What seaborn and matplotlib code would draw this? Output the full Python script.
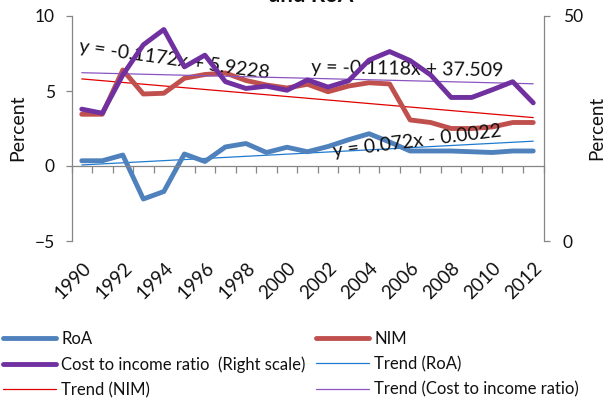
import numpy as np
import matplotlib
matplotlib.use('Agg')
import matplotlib.pyplot as plt
import matplotlib.transforms as mtrans
from matplotlib.lines import Line2D
import seaborn as sns

# Data
years = list(range(1990, 2013))
roa = [0.35, 0.35, 0.73, -2.2, -1.7, 0.8, 0.3, 1.27, 1.5, 0.9, 1.25, 0.95,
       1.3, 1.75, 2.15, 1.6, 1.0, 1.0, 1.0, 0.95, 0.9, 1.0, 1.0]
nim = [3.45, 3.45, 6.4, 4.8, 4.85, 5.85, 6.1, 6.2, 5.7, 5.4, 5.2, 5.45,
       4.95, 5.33, 5.55, 5.47, 3.07, 2.9, 2.5, 2.5, 2.6, 2.9, 2.9]
cost = [29.3, 28.4, 36.9, 43.6, 47.0, 38.7, 41.3, 35.4, 33.9, 34.4, 33.5, 35.8,
        34.2, 35.6, 40.2, 42.1, 40.1, 36.9, 31.9, 31.9, 33.6, 35.4, 30.7]

# trend line coefficients (slope, intercept) as printed on the chart, x = 1..23
trend_roa = (0.072, -0.0022)
trend_nim = (-0.1172, 5.9228)
trend_cost = (-0.1118, 37.509)

labels = ['RoA', 'NIM', 'Cost to income ratio  (Right scale)', 'Trend (RoA)',
          'Trend (NIM)', 'Trend (Cost to income ratio)']

c_roa, c_nim, c_cost = '#4F81BD', '#C0504D', '#7030A0'
c_troa, c_tnim, c_tcost = '#1F7BD0', '#E00000', '#8A55C0'
grey = '#868686'
ink = '#111111'

sns.set_theme(style='white')
plt.rcParams['font.family'] = ['Lato', 'DejaVu Sans']

fig = plt.figure(figsize=(6.05, 4.09), dpi=100)
ax = fig.add_axes([71.5 / 605, 1 - 241 / 409, (543.5 - 71.5) / 605, 225 / 409])
ax2 = ax.twinx()

idx = np.arange(len(years))
xt = idx + 1


def trend(coef):
    return coef[0] * xt + coef[1]


kw = dict(solid_capstyle='round', solid_joinstyle='round')
sns.lineplot(x=idx, y=trend(trend_roa), ax=ax, color=c_troa, lw=0.9)
sns.lineplot(x=idx, y=trend(trend_nim), ax=ax, color=c_tnim, lw=0.9)
sns.lineplot(x=idx, y=roa, ax=ax, color=c_roa, lw=3.5, **kw)
sns.lineplot(x=idx, y=nim, ax=ax, color=c_nim, lw=3.5, **kw)
sns.lineplot(x=idx, y=trend(trend_cost), ax=ax2, color=c_tcost, lw=0.9)
sns.lineplot(x=idx, y=cost, ax=ax2, color=c_cost, lw=3.5, **kw)

ax.set_xlim(-0.5, 22.5)
ax.set_ylim(-5, 10)
ax2.set_ylim(0, 50)

# spines
ax.spines['top'].set_visible(False)
ax.spines['right'].set_visible(False)
ax.spines['bottom'].set_position(('data', 0))
for s in ('left', 'bottom'):
    ax.spines[s].set_color(grey)
    ax.spines[s].set_linewidth(0.9)
for s in ('left', 'top', 'bottom'):
    ax2.spines[s].set_visible(False)
ax2.spines['right'].set_color(grey)
ax2.spines['right'].set_linewidth(0.9)

ax.set_yticks([-5, 0, 5, 10])
ax2.set_yticks([0, 50])
ax.tick_params(axis='y', direction='out', length=4, width=0.9, color=grey,
               labelsize=12.5, pad=8, left=True, labelcolor=ink)
ax2.tick_params(axis='y', direction='out', length=4, width=0.9, color=grey,
                labelsize=12.5, pad=10, right=True, labelcolor=ink)

ax.set_xticks([])
ax.set_xticks(np.arange(-0.5, 23, 1), minor=True)
ax.tick_params(axis='x', which='minor', direction='out', length=5, width=0.9,
               color=grey, bottom=True)
ax.set_xlabel('')
ax.set_ylabel('')
ax2.set_ylabel('')

trans = mtrans.blended_transform_factory(ax.transData, ax.transAxes)
for i, yr in enumerate(years):
    if i % 2 == 0:
        ax.text(i + 0.3, -0.11, str(yr), transform=trans, rotation=45,
                ha='right', va='center', rotation_mode='anchor', fontsize=13.5,
                color=ink)

fig.text(18 / 605, 1 - 128 / 409, 'Percent', rotation=90, ha='center',
         va='center', fontsize=14, color=ink)
fig.text(597 / 605, 1 - 128 / 409, 'Percent', rotation=90, ha='center',
         va='center', fontsize=13.5, color=ink)
fig.text(311 / 605, 1 - 1.5 / 409, 'and RoA', ha='center', va='baseline',
         fontsize=16, fontweight='bold', color=ink)

# trend equations
ax.text(4.52, 7.07, 'y = -0.1172x + 5.9228', rotation=-8, ha='center',
        va='center', fontsize=14, color=ink, rotation_mode='anchor')
ax.text(15.84, 6.45, 'y = -0.1118x + 37.509', rotation=-1, ha='center',
        va='center', fontsize=14, color=ink, rotation_mode='anchor')
ax.text(16.33, 1.67, 'y = 0.072x - 0.0022', rotation=7, ha='center',
        va='center', fontsize=14, color=ink, rotation_mode='anchor')

handles = [Line2D([], [], color=c_roa, lw=3.5, solid_capstyle='round'),
           Line2D([], [], color=c_nim, lw=3.5, solid_capstyle='round'),
           Line2D([], [], color=c_cost, lw=3.5, solid_capstyle='round'),
           Line2D([], [], color=c_troa, lw=0.9),
           Line2D([], [], color=c_tnim, lw=0.9),
           Line2D([], [], color=c_tcost, lw=0.9)]
order = [0, 2, 4, 1, 3, 5]
leg = fig.legend([handles[i] for i in order], [labels[i] for i in order],
                 loc='upper left', bbox_to_anchor=(3 / 605, 1 - 331 / 409),
                 ncol=2, frameon=False, fontsize=12, handlelength=3.2,
                 handletextpad=0.3, labelspacing=0.55, columnspacing=0.6,
                 borderaxespad=0, borderpad=0)
for t in leg.get_texts():
    t.set_color(ink)

fig.savefig('out.png', dpi=100)
